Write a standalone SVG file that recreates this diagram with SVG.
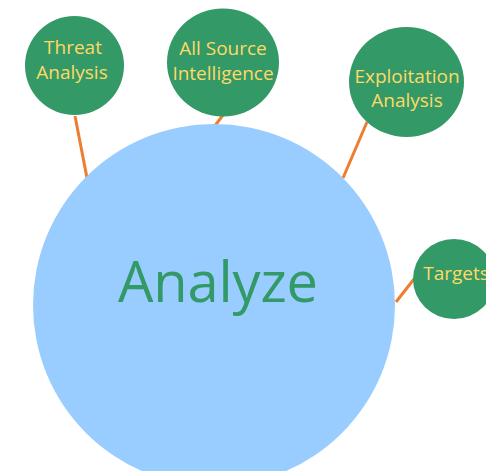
<svg xmlns="http://www.w3.org/2000/svg" width="486" height="471" viewBox="0 0 486 471">
<style>
.small{fill:#339966}
.lbl{font-family:"Open Sans","Liberation Sans",sans-serif;font-size:19px;fill:#FFD966;text-anchor:middle}
.conn{stroke:#ED7D31;stroke-width:3;fill:none}
</style>
<rect width="486" height="471" fill="#ffffff"/>
<g id="connectors">
<line class="conn" x1="75" y1="116" x2="87" y2="178"/>
<line class="conn" x1="223" y1="115" x2="214" y2="127"/>
<line class="conn" x1="367" y1="122" x2="343" y2="178"/>
<line class="conn" x1="414" y1="279" x2="396" y2="302"/>
</g>
<g id="analyze">
<circle cx="214" cy="305" r="181" fill="#99CCFF"/>
<text x="218" y="302" font-family="'Open Sans','Liberation Sans',sans-serif" font-size="56" fill="#339966" text-anchor="middle" textLength="200">Analyze</text>
</g>
<g id="threat">
<circle class="small" cx="74.5" cy="65.5" r="49.5"/>
<text class="lbl" x="73" y="54">Threat</text>
<text class="lbl" x="72" y="79">Analysis</text>
</g>
<g id="allsource">
<ellipse class="small" cx="223" cy="62.5" rx="56" ry="54"/>
<text class="lbl" x="223" y="55">All Source</text>
<text class="lbl" x="223" y="80">Intelligence</text>
</g>
<g id="exploitation">
<ellipse class="small" cx="406.5" cy="82" rx="57.5" ry="55"/>
<text class="lbl" x="407" y="83">Exploitation</text>
<text class="lbl" x="407" y="107">Analysis</text>
</g>
<g id="targets">
<ellipse class="small" cx="454" cy="279" rx="41" ry="40"/>
<text class="lbl" x="456" y="280">Targets</text>
</g>
</svg>
